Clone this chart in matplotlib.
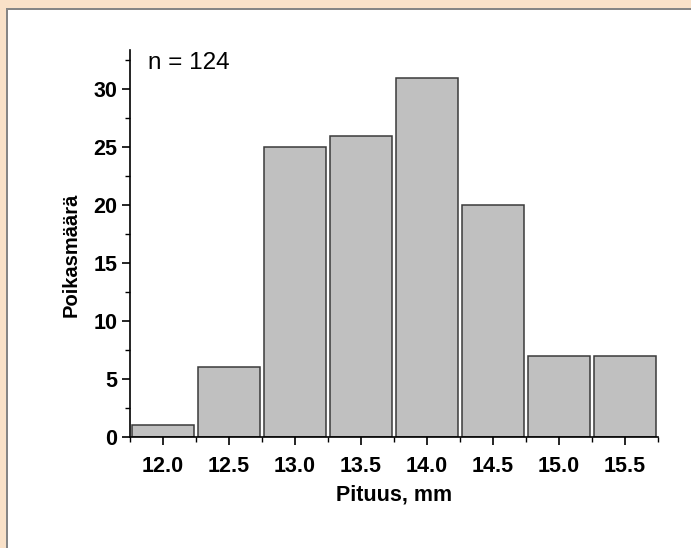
import numpy as np
import matplotlib
matplotlib.use("Agg")
import matplotlib.pyplot as plt
from matplotlib.patches import Rectangle
from matplotlib.ticker import MultipleLocator, FixedLocator

plt.rcParams["font.family"] = ["Liberation Sans", "DejaVu Sans"]

# data
length_bins = [12.0, 12.5, 13.0, 13.5, 14.0, 14.5, 15.0, 15.5]
counts = [1, 6, 25, 26, 31, 20, 7, 7]
tick_labels = ["12.0", "12.5", "13.0", "13.5", "14.0", "14.5", "15.0", "15.5"]
n_label = "n = 124"

W, H = 691, 548
fig = plt.figure(figsize=(W / 100, H / 100), dpi=100)
fig.patch.set_facecolor("white")

# peach frame on top/left with grey inner border
peach = "#F9E1C8"
fig.patches.append(Rectangle((0, 1 - 8 / H), 1, 8 / H, transform=fig.transFigure,
                             facecolor=peach, edgecolor="none", zorder=0))
fig.patches.append(Rectangle((0, 0), 6 / W, 1, transform=fig.transFigure,
                             facecolor=peach, edgecolor="none", zorder=0))
fig.patches.append(Rectangle((6 / W, 1 - 10 / H), 1, 2 / H, transform=fig.transFigure,
                             facecolor="#858585", edgecolor="none", zorder=1))
fig.patches.append(Rectangle((6 / W, 0), 2 / W, 1 - 8 / H, transform=fig.transFigure,
                             facecolor="#858585", edgecolor="none", zorder=1))

ax = fig.add_axes([130 / W, 1 - 437 / H, 528 / W, 387 / H])
ax.set_facecolor("none")

ax.bar(length_bins, counts, width=0.475, color="#C0C0C0",
       edgecolor="#3a3a3a", linewidth=1.1, zorder=2)

ax.set_xlim(11.75, 15.75)
ax.set_ylim(0, 33.4)

for s in ["top", "right"]:
    ax.spines[s].set_visible(False)
for s in ["left", "bottom"]:
    ax.spines[s].set_linewidth(1.2)

ax.set_xticks(length_bins)
ax.set_xticklabels(tick_labels)
ax.xaxis.set_minor_locator(FixedLocator(np.arange(11.75, 15.8, 0.5)))
ax.yaxis.set_major_locator(MultipleLocator(5))
ax.yaxis.set_minor_locator(MultipleLocator(2.5))

ax.tick_params(axis="both", which="major", direction="out", length=6, width=1.2,
               labelsize=15.5)
ax.tick_params(axis="x", which="major", pad=8)
ax.tick_params(axis="y", which="major", pad=3)
ax.tick_params(axis="both", which="minor", direction="out", length=3.5, width=1.0)
for lab in ax.get_xticklabels() + ax.get_yticklabels():
    lab.set_fontweight("bold")

ax.set_xlabel("Pituus, mm", fontsize=15.5, fontweight="bold", labelpad=5)
ax.set_ylabel("Poikasmäärä", fontsize=14.5, fontweight="bold")
ax.yaxis.set_label_coords(-0.093, 0.47)

ax.text(0.034, 0.966, n_label, transform=ax.transAxes, fontsize=17.5,
        ha="left", va="center")

fig.savefig("out.png", dpi=100)
